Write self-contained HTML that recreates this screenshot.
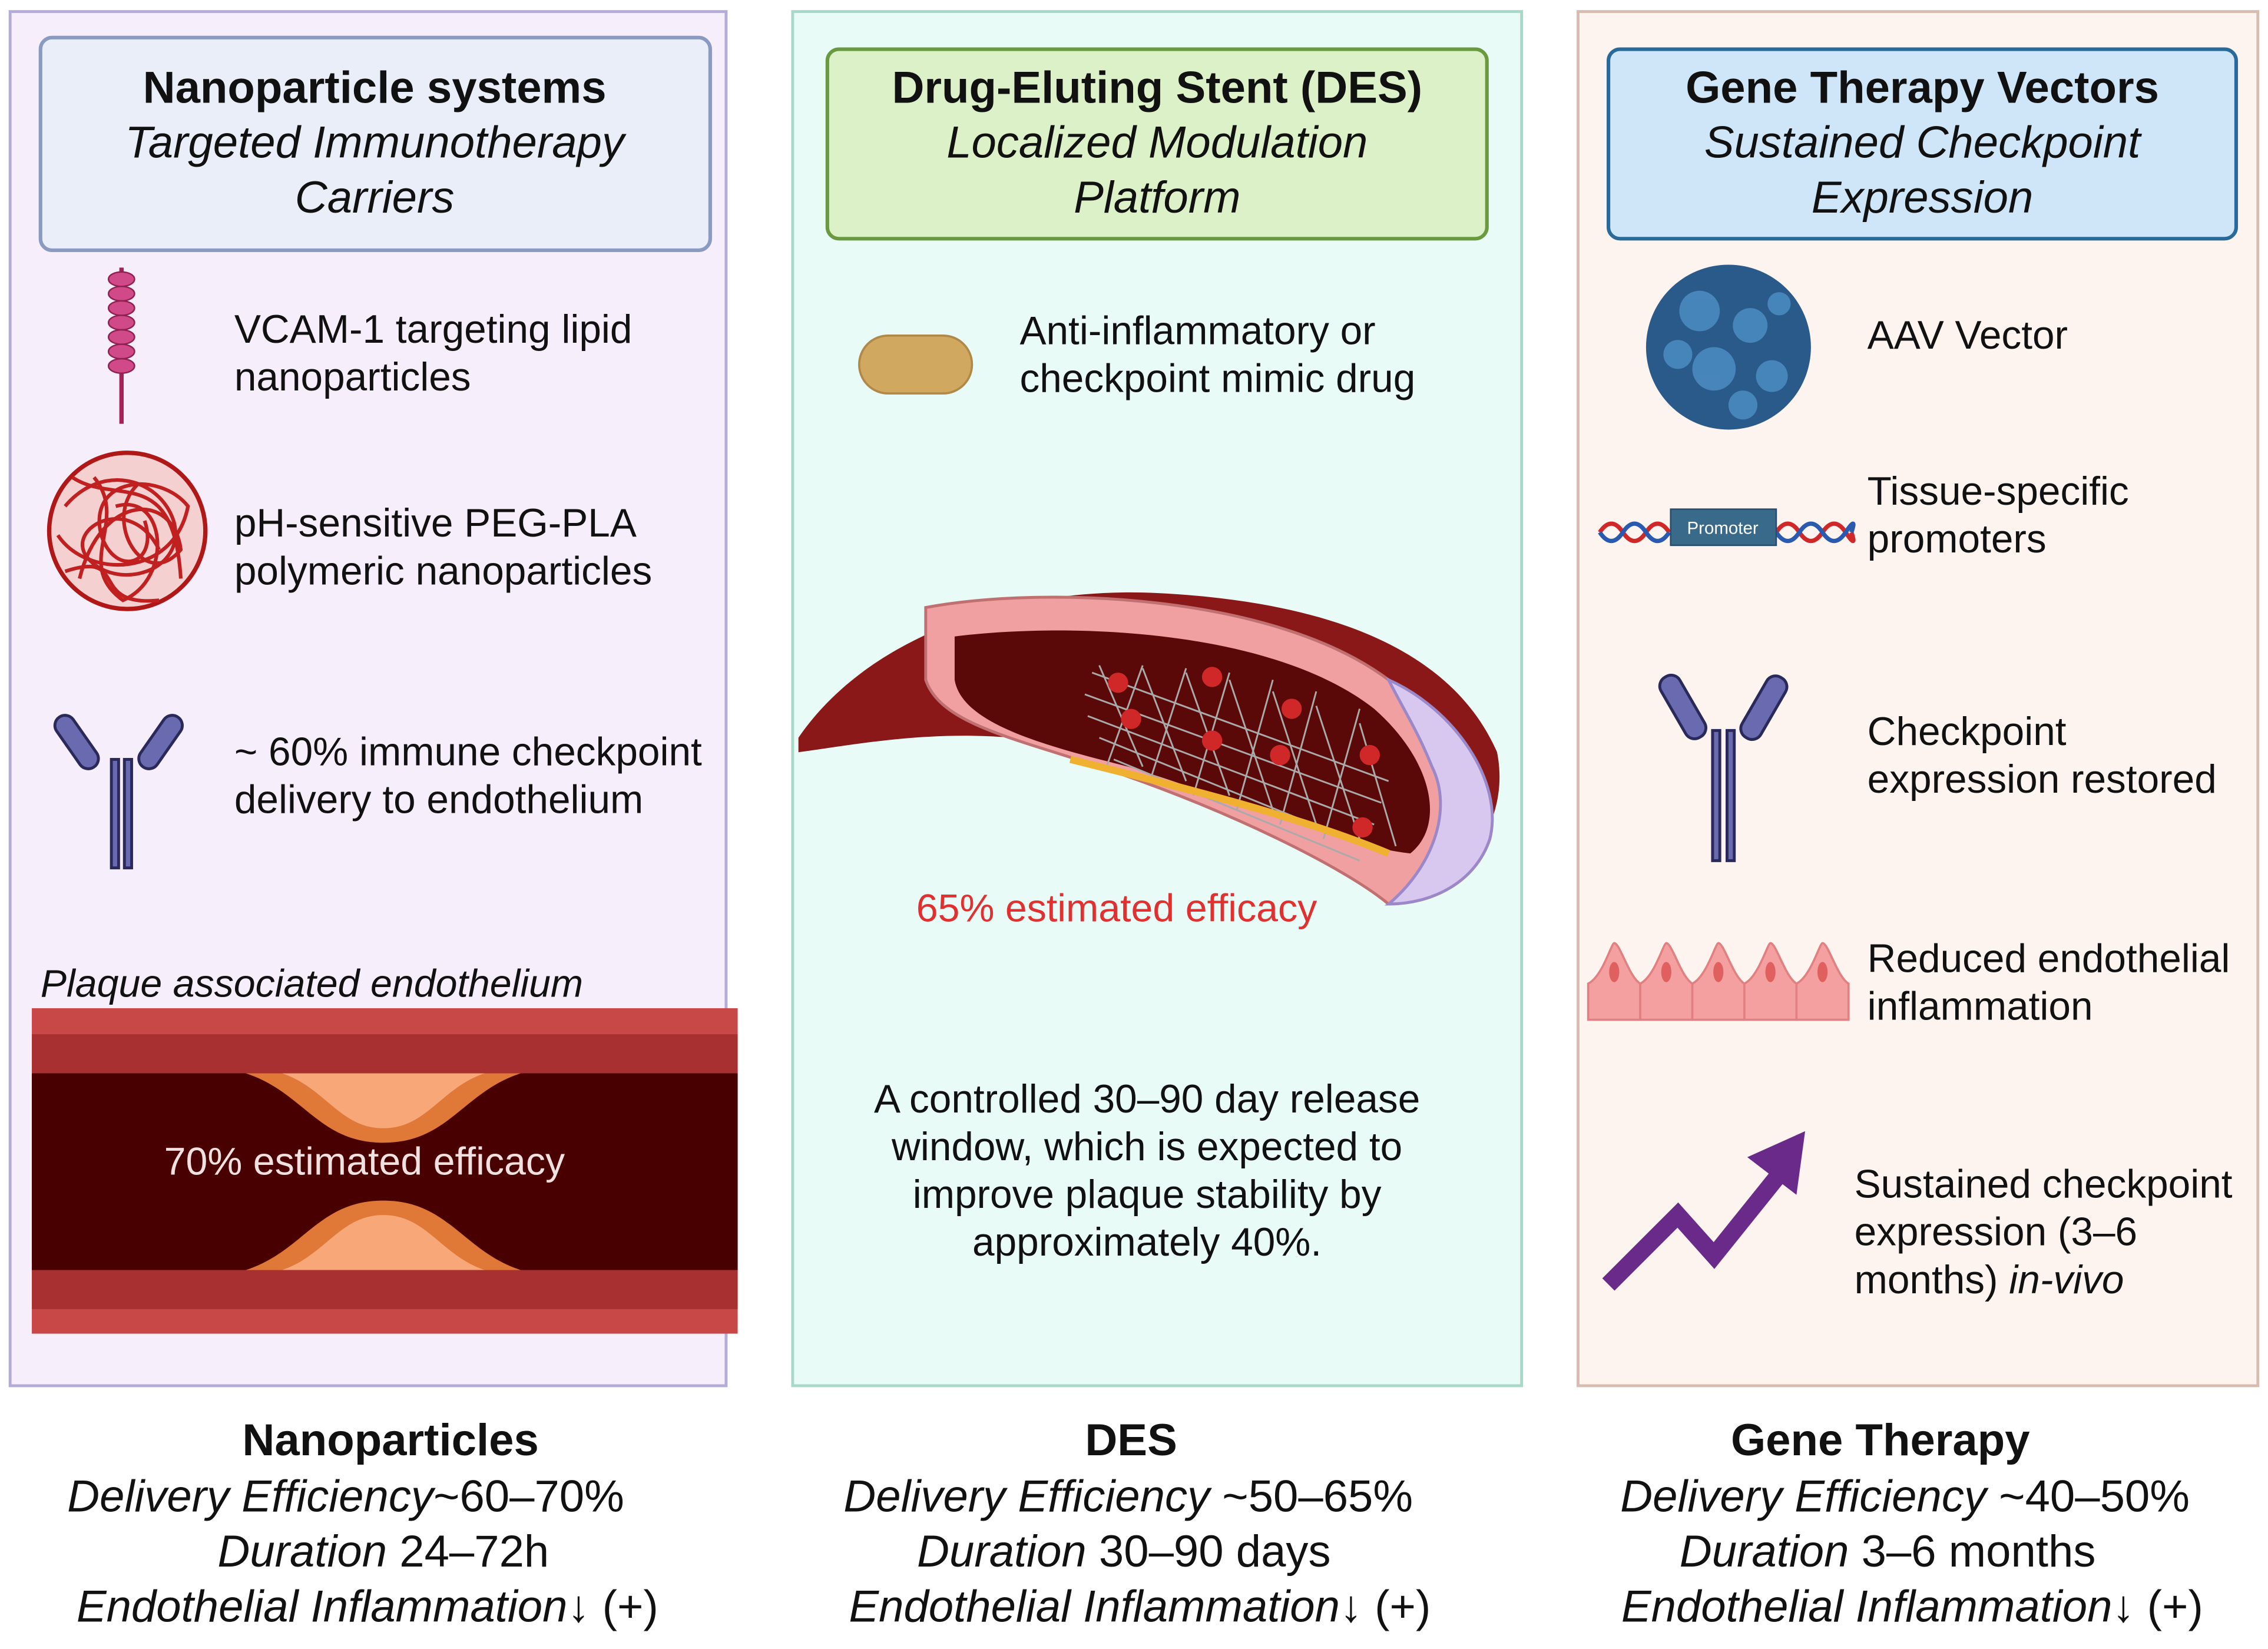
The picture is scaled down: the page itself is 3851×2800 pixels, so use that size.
<!DOCTYPE html>
<html><head><meta charset="utf-8">
<style>
html,body{margin:0;padding:0;background:#fff;}
svg{display:block;}
text{font-family:"Liberation Sans",sans-serif;fill:#111;}
.t{font-size:31px;font-weight:bold;text-anchor:middle;}
.i{font-size:31px;font-style:italic;text-anchor:middle;}
.b{font-size:27.5px;}
.f{font-size:31px;text-anchor:middle;}
.m{font-size:27.5px;text-anchor:middle;}
</style></head><body>
<svg width="3851" height="2800" viewBox="0 0 1568 1140" preserveAspectRatio="none" xmlns="http://www.w3.org/2000/svg">
<rect width="1568" height="1140" fill="#fff"/>
<rect x="7" y="8" width="495" height="950" fill="#f7eefb" stroke="#b4acd8" stroke-width="2"/>
<rect x="548" y="8" width="504" height="950" fill="#e9fbf6" stroke="#a8d8c8" stroke-width="2"/>
<rect x="1091" y="8" width="470" height="950" fill="#fdf4f0" stroke="#d8bcb0" stroke-width="2"/>

<rect x="28" y="26" width="463" height="147" rx="8" fill="#e9eef8" stroke="#8a9ac0" stroke-width="2.5"/>
<text class="t" x="259" y="71">Nanoparticle systems</text>
<text class="i" x="259" y="109">Targeted Immunotherapy</text>
<text class="i" x="259" y="147">Carriers</text>

<rect x="572" y="34" width="456" height="131" rx="8" fill="#dcf1c8" stroke="#6a9a40" stroke-width="2.5"/>
<text class="t" x="800" y="71">Drug-Eluting Stent (DES)</text>
<text class="i" x="800" y="109">Localized Modulation</text>
<text class="i" x="800" y="147">Platform</text>

<rect x="1112" y="34" width="434" height="131" rx="8" fill="#cfe6f8" stroke="#2a6a9a" stroke-width="2.5"/>
<text class="t" x="1329" y="71">Gene Therapy Vectors</text>
<text class="i" x="1329" y="109">Sustained Checkpoint</text>
<text class="i" x="1329" y="147">Expression</text>

<line x1="84" y1="185" x2="84" y2="293" stroke="#a8205a" stroke-width="3"/>
<g fill="#d04a8a" stroke="#902050" stroke-width="1">
<ellipse cx="84" cy="193" rx="9" ry="5"/><ellipse cx="84" cy="203" rx="9" ry="5"/><ellipse cx="84" cy="213" rx="9" ry="5"/><ellipse cx="84" cy="223" rx="9" ry="5"/><ellipse cx="84" cy="233" rx="9" ry="5"/><ellipse cx="84" cy="243" rx="9" ry="5"/><ellipse cx="84" cy="253" rx="9" ry="5"/>
</g>
<text class="b" x="162" y="237">VCAM-1 targeting lipid</text>
<text class="b" x="162" y="270">nanoparticles</text>

<circle cx="88" cy="367" r="54" fill="#f4d0d0" stroke="#b01818" stroke-width="3"/>
<g fill="none" stroke="#c02020" stroke-width="2.5">
<path d="M45 350 C70 320 110 330 120 360 C130 395 80 410 60 385 C45 365 90 340 110 380"/>
<path d="M55 400 C70 340 120 340 125 380 C100 410 70 360 95 335"/>
<path d="M40 370 C60 400 120 400 130 350 C110 325 60 330 70 370 C80 400 110 390 100 360"/>
<path d="M65 330 C90 360 50 390 85 415 C120 400 115 340 80 350"/>
<path d="M50 330 C80 350 120 320 125 400 M45 395 C90 380 60 420 110 415"/>
</g>
<text class="b" x="162" y="371">pH-sensitive PEG-PLA</text>
<text class="b" x="162" y="404">polymeric nanoparticles</text>

<g stroke="#2a2a5a" stroke-width="2" fill="#6a6ab0">
<rect x="77" y="525" width="5" height="75"/><rect x="86" y="525" width="5" height="75"/>
<rect x="46" y="492" width="14" height="42" rx="7" transform="rotate(-35 53 513)"/>
<rect x="104" y="492" width="14" height="42" rx="7" transform="rotate(35 111 513)"/>
</g>
<text class="b" x="162" y="529">~ 60% immune checkpoint</text>
<text class="b" x="162" y="562">delivery to endothelium</text>

<text x="28" y="689" style="font-size:27px;font-style:italic">Plaque associated endothelium</text>
<rect x="22" y="697" width="488" height="225" fill="#c84848"/>
<rect x="22" y="715" width="488" height="27" fill="#a83030"/>
<rect x="22" y="878" width="488" height="27" fill="#a83030"/>
<rect x="22" y="742" width="488" height="136" fill="#480000"/>
<path d="M170 742 C210 755 220 790 265 790 C310 790 320 755 360 742 Z" fill="#e07838"/>
<path d="M195 742 C225 752 235 780 265 780 C295 780 305 752 335 742 Z" fill="#f8a878"/>
<path d="M170 878 C210 865 220 830 265 830 C310 830 320 865 360 878 Z" fill="#e07838"/>
<path d="M195 878 C225 868 235 840 265 840 C295 840 305 868 335 878 Z" fill="#f8a878"/>
<text x="252" y="812" style="font-size:27px;fill:#f0e0e0;text-anchor:middle">70% estimated efficacy</text>

<rect x="594" y="232" width="78" height="40" rx="20" fill="#d0a860" stroke="#b08848" stroke-width="1.5"/>
<text class="b" x="705" y="238">Anti-inflammatory or</text>
<text class="b" x="705" y="271">checkpoint mimic drug</text>

<path d="M552 510 C600 440 700 405 800 410 C900 415 1000 440 1035 520 C1045 570 1010 615 960 625 C900 560 800 520 700 510 C640 505 590 515 552 520 Z" fill="#8a1818"/>
<path d="M640 420 C720 405 880 410 960 470 C1000 500 1040 540 1030 580 C1020 610 990 625 960 625 C930 600 850 560 760 530 C700 510 650 500 640 470 Z" fill="#f0a0a0" stroke="#c07070" stroke-width="2"/>
<path d="M960 470 C1005 490 1040 540 1030 580 C1020 610 990 625 960 625 C990 600 1005 560 990 530 C980 505 970 490 960 470Z" fill="#d8c8f0" stroke="#9a88c8" stroke-width="2"/>
<path d="M660 440 C740 430 880 435 950 490 C990 525 1000 570 975 590 C930 585 860 555 780 530 C720 515 665 500 660 470 Z" fill="#5a0808"/>
<g stroke="#aaa" stroke-width="1.2" fill="none">
<path d="M755 465 L960 540 M750 480 L955 555 M752 495 L950 570 M760 510 L945 585 M770 525 L940 595"/>
<path d="M760 460 L790 530 M790 462 L820 540 M820 465 L850 550 M850 470 L880 560 M880 478 L910 570 M910 488 L940 580 M940 500 L965 585"/>
<path d="M790 460 L765 530 M820 462 L795 540 M850 465 L825 550 M880 470 L855 560 M910 478 L885 570 M940 490 L915 580"/>
</g>
<path d="M740 525 C820 545 900 565 960 590" stroke="#f0b030" stroke-width="5" fill="none"/>
<g fill="#d02828"><circle cx="773" cy="472" r="7"/><circle cx="838" cy="468" r="7"/><circle cx="782" cy="497" r="7"/><circle cx="838" cy="512" r="7"/><circle cx="893" cy="490" r="7"/><circle cx="885" cy="522" r="7"/><circle cx="947" cy="522" r="7"/><circle cx="942" cy="572" r="7"/></g>
<text x="772" y="637" style="font-size:27px;fill:#e03030;text-anchor:middle">65% estimated efficacy</text>

<text class="m" x="793" y="769">A controlled 30–90 day release</text>
<text class="m" x="793" y="802">window, which is expected to</text>
<text class="m" x="793" y="835">improve plaque stability by</text>
<text class="m" x="793" y="868">approximately 40%.</text>

<circle cx="1195" cy="240" r="57" fill="#2a5a8a"/>
<g fill="#4a8ac0" opacity="0.9">
<circle cx="1175" cy="215" r="14"/><circle cx="1210" cy="225" r="12"/><circle cx="1185" cy="255" r="15"/><circle cx="1225" cy="260" r="11"/><circle cx="1160" cy="245" r="10"/><circle cx="1205" cy="280" r="10"/><circle cx="1230" cy="210" r="8"/>
</g>
<text class="b" x="1291" y="241">AAV Vector</text>

<g fill="none" stroke-width="3">
<path d="M1106 368 q8 -12 16 0 t16 0 t16 0" stroke="#d02828"/>
<path d="M1106 368 q8 12 16 0 t16 0 t16 0" stroke="#2a5ab0"/>
<path d="M1228 368 q8 -12 16 0 t16 0 t16 0 t4 0" stroke="#d02828"/>
<path d="M1228 368 q8 12 16 0 t16 0 t16 0 t4 0" stroke="#2a5ab0"/>
</g>
<rect x="1155" y="352" width="73" height="25" fill="#3a6a8a" stroke="#2a4a6a"/>
<text x="1191" y="369" style="font-size:12px;fill:#fff;text-anchor:middle">Promoter</text>
<text class="b" x="1291" y="349">Tissue-specific</text>
<text class="b" x="1291" y="382">promoters</text>

<g stroke="#2a2a5a" stroke-width="2" fill="#6a6ab0">
<rect x="1184" y="505" width="5" height="90"/><rect x="1194" y="505" width="5" height="90"/>
<rect x="1156" y="465" width="15" height="48" rx="7" transform="rotate(-30 1163 489)"/>
<rect x="1212" y="465" width="15" height="48" rx="7" transform="rotate(30 1219 489)"/>
</g>
<text class="b" x="1291" y="515">Checkpoint</text>
<text class="b" x="1291" y="548">expression restored</text>

<g fill="#f4a0a0" stroke="#e08080" stroke-width="1.5">
<path d="M1098 705 L1098 680 C1108 675 1114 652 1116 652 C1120 652 1126 675 1134 680 L1134 705Z"/>
<path d="M1134 705 L1134 680 C1144 675 1150 652 1152 652 C1156 652 1162 675 1170 680 L1170 705Z"/>
<path d="M1170 705 L1170 680 C1180 675 1186 652 1188 652 C1192 652 1198 675 1206 680 L1206 705Z"/>
<path d="M1206 705 L1206 680 C1216 675 1222 652 1224 652 C1228 652 1234 675 1242 680 L1242 705Z"/>
<path d="M1242 705 L1242 680 C1252 675 1258 652 1260 652 C1264 652 1270 675 1278 680 L1278 705Z"/>
</g>
<g fill="#e06060"><ellipse cx="1116" cy="672" rx="3.5" ry="7"/><ellipse cx="1152" cy="672" rx="3.5" ry="7"/><ellipse cx="1188" cy="672" rx="3.5" ry="7"/><ellipse cx="1224" cy="672" rx="3.5" ry="7"/><ellipse cx="1260" cy="672" rx="3.5" ry="7"/></g>
<text class="b" x="1291" y="672">Reduced endothelial</text>
<text class="b" x="1291" y="705">inflammation</text>

<path d="M1112 888 L1160 840 L1185 868 L1230 812" stroke="#6a2a8a" stroke-width="12" fill="none"/>
<polygon points="1248,782 1242,826 1208,800" fill="#6a2a8a"/>
<text class="b" x="1282" y="828">Sustained checkpoint</text>
<text class="b" x="1282" y="861">expression (3–6</text>
<text class="b" x="1282" y="894">months) <tspan font-style="italic">in-vivo</tspan></text>

<text class="t" x="270" y="1006">Nanoparticles</text>
<text class="f" x="239" y="1045"><tspan font-style="italic">Delivery Efficiency</tspan>~60–70%</text>
<text class="f" x="265" y="1083"><tspan font-style="italic">Duration</tspan> 24–72h</text>
<text class="f" x="254" y="1121"><tspan font-style="italic">Endothelial Inflammation</tspan>↓ (+)</text>

<text class="t" x="782" y="1006">DES</text>
<text class="f" x="780" y="1045"><tspan font-style="italic">Delivery Efficiency</tspan> ~50–65%</text>
<text class="f" x="777" y="1083"><tspan font-style="italic">Duration</tspan> 30–90 days</text>
<text class="f" x="788" y="1121"><tspan font-style="italic">Endothelial Inflammation</tspan>↓ (+)</text>

<text class="t" x="1300" y="1006">Gene Therapy</text>
<text class="f" x="1317" y="1045"><tspan font-style="italic">Delivery Efficiency</tspan> ~40–50%</text>
<text class="f" x="1305" y="1083"><tspan font-style="italic">Duration</tspan> 3–6 months</text>
<text class="f" x="1322" y="1121"><tspan font-style="italic">Endothelial Inflammation</tspan>↓ (+)</text>
</svg>
</body></html>
